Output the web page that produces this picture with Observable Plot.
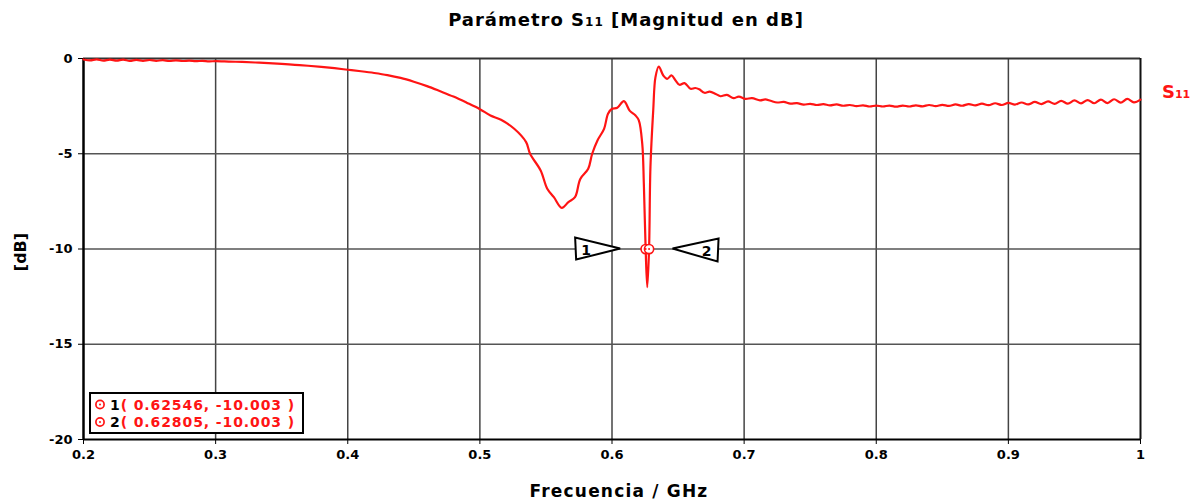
<!DOCTYPE html>
<html>
<head>
<meta charset="utf-8">
<script src="https://cdn.jsdelivr.net/npm/d3@7"></script>
<script src="https://cdn.jsdelivr.net/npm/@observablehq/plot@0.6"></script>
<style>
  html, body { margin: 0; padding: 0; background: #fff; }
  #chart svg { display: block; }
</style>
</head>
<body>
<div id="chart"></div>
<script>
// ---- data ----
const freq = [
  0.200,0.205,0.210,0.215,0.220,0.225,0.230,0.235,0.240,0.245,0.250,0.255,0.260,0.265,0.270,0.275,0.280,0.285,0.290,0.295,0.300,
  0.310,0.320,0.330,0.340,0.350,0.360,0.370,0.380,0.390,0.400,0.410,0.420,0.430,0.440,0.450,0.460,0.470,0.480,0.490,0.500,
  0.508,0.516,0.526,0.535,0.538,0.546,0.551,0.556,0.562,0.567,0.572,0.576,0.582,0.585,0.589,0.594,0.597,0.600,0.604,0.609,
  0.6135,0.6178,0.6203,0.6229,0.6241,0.62546,0.6267,0.62805,0.6291,0.6312,0.6329,0.6354,
  0.6388,0.6418,0.6450,0.6481,0.6511,0.6549,0.6594,0.6630,0.6660,0.6700,0.6740,0.6785,0.6821,0.6870,0.6920,0.6960,0.7010,0.7060,0.7120,0.7160,
  0.720,0.725,0.730,0.735,0.740,0.745,0.750,0.755,0.760,0.765,0.770,0.775,0.780,0.785,0.790,0.795,0.800,
  0.805,0.810,0.815,0.820,0.825,0.830,0.835,0.840,0.845,0.850,0.855,0.860,0.865,0.870,0.875,0.880,0.885,0.890,0.895,0.900,
  0.905,0.910,0.915,0.920,0.925,0.930,0.935,0.940,0.945,0.950,0.955,0.960,0.965,0.970,0.975,0.980,0.985,0.990,0.995,1.000
];
const s11 = [
  -0.05,-0.10,-0.05,-0.11,-0.06,-0.11,-0.06,-0.12,-0.07,-0.12,-0.08,-0.12,-0.09,-0.13,-0.10,-0.13,-0.11,-0.14,-0.12,-0.15,-0.14,
  -0.16,-0.18,-0.21,-0.24,-0.28,-0.33,-0.38,-0.44,-0.51,-0.59,-0.67,-0.76,-0.87,-1.02,-1.22,-1.45,-1.72,-2.00,-2.32,-2.66,
  -2.99,-3.22,-3.69,-4.39,-5.00,-5.88,-6.84,-7.28,-7.84,-7.54,-7.28,-6.32,-5.79,-5.00,-4.30,-3.69,-2.90,-2.64,-2.59,-2.24,
  -2.75,-2.99,-3.25,-4.48,-6.57,-10.003,-12.0,-10.003,-5.70,-2.73,-0.98,-0.42,
  -0.89,-1.07,-0.89,-1.15,-1.38,-1.29,-1.59,-1.55,-1.62,-1.80,-1.74,-1.86,-1.98,-1.91,-2.08,-2.00,-2.12,-2.08,-2.20,-2.15,
  -2.22,-2.31,-2.28,-2.37,-2.34,-2.42,-2.38,-2.44,-2.40,-2.46,-2.41,-2.48,-2.44,-2.50,-2.46,-2.52,-2.47,
  -2.52,-2.47,-2.53,-2.47,-2.52,-2.46,-2.51,-2.44,-2.50,-2.43,-2.49,-2.41,-2.48,-2.39,-2.46,-2.37,-2.45,-2.35,-2.44,-2.33,
  -2.42,-2.31,-2.41,-2.28,-2.39,-2.25,-2.38,-2.22,-2.37,-2.20,-2.36,-2.18,-2.35,-2.16,-2.34,-2.14,-2.32,-2.12,-2.30,-2.16
];
const xTicks = [0.2, 0.3, 0.4, 0.5, 0.6, 0.7, 0.8, 0.9, 1.0];
const xTickLabels = ["0.2", "0.3", "0.4", "0.5", "0.6", "0.7", "0.8", "0.9", "1"];
const yTicks = [0, -5, -10, -15, -20];
const yTickLabels = ["0", "-5", "-10", "-15", "-20"];
const markerIds = ["1", "2"];
const markerFreq = [0.62546, 0.62805];
const markerDb = [-10.003, -10.003];

const FONT = "'DejaVu Sans', Verdana, sans-serif";
const RED = "#ff1414";

// triangle flags for the markers (positions from the scales)
function markerFlags(index, scales) {
  const x = scales.x, y = scales.y;
  const g = d3.create("svg:g");
  const ax = x(markerFreq[0]), ay = y(markerDb[0]);
  const bx = x(markerFreq[1]), by = y(markerDb[1]);
  g.append("path")
    .attr("d", `M${ax - 70},${ay - 11}L${ax - 69},${ay + 11}L${ax - 25},${ay}Z`)
    .attr("fill", "white").attr("stroke", "black").attr("stroke-width", 2).attr("stroke-linejoin", "miter");
  g.append("path")
    .attr("d", `M${bx + 24},${by}L${bx + 70},${by - 10}L${bx + 69},${by + 13}Z`)
    .attr("fill", "white").attr("stroke", "black").attr("stroke-width", 2).attr("stroke-linejoin", "miter");
  g.append("text").attr("x", ax - 59).attr("y", ay + 6).attr("text-anchor", "middle")
    .attr("font-family", FONT).attr("font-weight", "bold").attr("font-size", 14).attr("fill", "black")
    .text(markerIds[0]);
  g.append("text").attr("x", bx + 58).attr("y", by + 7).attr("text-anchor", "middle")
    .attr("font-family", FONT).attr("font-weight", "bold").attr("font-size", 14).attr("fill", "black")
    .text(markerIds[1]);
  return g.node();
}

// marker legend box in the lower-left corner of the frame
function markerTable(index, scales, values, dimensions) {
  const { marginLeft, marginBottom, height } = dimensions;
  const g = d3.create("svg:g");
  const bx = marginLeft + 7, by = height - marginBottom - 46;
  g.append("rect").attr("x", bx).attr("y", by).attr("width", 213).attr("height", 40)
    .attr("fill", "white").attr("stroke", "black").attr("stroke-width", 2);
  markerIds.forEach((id, i) => {
    const cy = by + 11.5 + i * 17.5;
    g.append("circle").attr("cx", bx + 10).attr("cy", cy).attr("r", 4.1)
      .attr("fill", "white").attr("stroke", RED).attr("stroke-width", 1.7);
    g.append("circle").attr("cx", bx + 10).attr("cy", cy).attr("r", 1).attr("fill", RED);
    const t = g.append("text").attr("x", bx + 20).attr("y", cy + 5)
      .attr("text-anchor", "start")
      .attr("font-family", FONT).attr("font-weight", "bold").attr("font-size", 14)
      .attr("letter-spacing", "0.9px");
    t.append("tspan").attr("fill", "black").text(id);
    t.append("tspan").attr("fill", RED)
      .text(`( ${markerFreq[i].toFixed(5)}, ${markerDb[i].toFixed(3)} )`);
  });
  return g.node();
}

const chart = Plot.plot({
  width: 1191,
  height: 504,
  marginLeft: 83,
  marginRight: 51,
  marginTop: 58,
  marginBottom: 65,
  style: {
    fontFamily: FONT,
    fontSize: "13px",
    fontWeight: "bold",
    color: "black",
    background: "white",
    overflow: "visible"
  },
  x: {
    domain: [0.2, 1],
    ticks: xTicks,
    tickFormat: d => xTickLabels[xTicks.indexOf(d)],
    tickSize: 5,
    tickPadding: 5,
    label: null
  },
  y: {
    domain: [-20, 0],
    ticks: yTicks,
    tickFormat: d => yTickLabels[yTicks.indexOf(d)],
    tickSize: 5,
    tickPadding: 6,
    label: null
  },
  marks: [
    Plot.ruleX(xTicks.slice(1, -1), { stroke: "#444", strokeWidth: 1.5 }),
    Plot.ruleY(yTicks.slice(1, -1), { stroke: "#555", strokeWidth: 1.7 }),
    Plot.ruleY([0], { stroke: "#333", strokeWidth: 2 }),
    Plot.ruleX([1], { stroke: "#111", strokeWidth: 2 }),
    Plot.ruleX([0.2], { stroke: "#000", strokeWidth: 2.5 }),
    Plot.ruleY([-20], { stroke: "#000", strokeWidth: 2 }),
    markerTable,
    Plot.line(freq, { x: freq, y: s11, stroke: RED, strokeWidth: 2.2, strokeLinejoin: "round", curve: "catmull-rom" }),
    markerFlags,
    Plot.dot(markerFreq, { x: markerFreq, y: markerDb, r: 4.6, stroke: RED, strokeWidth: 1.6, fill: "white" }),
    Plot.dot(markerFreq, { x: markerFreq, y: markerDb, r: 1, fill: RED })
  ]
});

const svg = d3.select(chart);
// title
const title = svg.append("text").attr("x", 626).attr("y", 26).attr("text-anchor", "middle")
  .attr("font-family", FONT).attr("font-weight", "bold").attr("font-size", 18)
  .attr("letter-spacing", "1px").attr("fill", "black");
title.append("tspan").text("Parámetro S");
title.append("tspan").attr("font-size", 12).text("11");
title.append("tspan").text(" [Magnitud en dB]");
// x label
svg.append("text").attr("x", 619).attr("y", 497).attr("text-anchor", "middle")
  .attr("font-family", FONT).attr("font-weight", "bold").attr("font-size", 17)
  .attr("letter-spacing", "1.2px").attr("fill", "black")
  .text("Frecuencia / GHz");
// y label
svg.append("text").attr("transform", "translate(26,252) rotate(-90)").attr("text-anchor", "middle")
  .attr("font-family", FONT).attr("font-weight", "bold").attr("font-size", 16).attr("fill", "black")
  .text("[dB]");
// series name
const sname = svg.append("text").attr("x", 1162).attr("y", 98).attr("text-anchor", "start")
  .attr("font-family", FONT).attr("font-weight", "bold").attr("font-size", 18).attr("fill", RED);
sname.append("tspan").text("S");
sname.append("tspan").attr("font-size", 11).text("11");

document.getElementById("chart").appendChild(chart);
</script>
</body>
</html>
